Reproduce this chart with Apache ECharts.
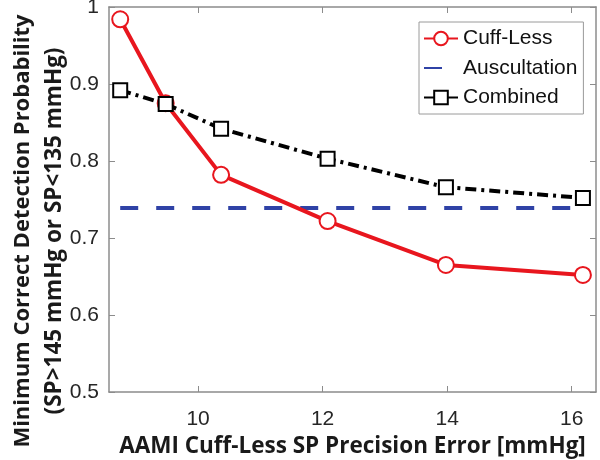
<!DOCTYPE html>
<html>
<head>
<meta charset="utf-8">
<script src="https://cdn.jsdelivr.net/npm/echarts@6/dist/echarts.min.js"></script>
<style>html,body{margin:0;padding:0;background:#fff}#c{width:600px;height:460px}</style>
</head>
<body>
<div id="c"></div>
<script>
var xValues = [8.75, 9.48, 10.37, 12.08, 13.98, 16.18];
var cuffLess = [0.984, 0.875, 0.782, 0.722, 0.665, 0.652];
var auscultation = [0.739, 0.739, 0.739, 0.739, 0.739, 0.739];
var combined = [0.892, 0.874, 0.842, 0.803, 0.766, 0.752];
var xTicks = [10, 12, 14, 16];
var yTicks = [0.5, 0.6, 0.7, 0.8, 0.9, 1];
var seriesNames = ['Cuff-Less', 'Auscultation', 'Combined'];
var xTitle = 'AAMI Cuff-Less SP Precision Error [mmHg]';
var yTitle1 = 'Minimum Correct Detection Probability';
var yTitle2 = '(SP>145 mmHg or SP<135 mmHg)';

function pairs(ys) { return xValues.map(function (x, i) { return [x, ys[i]]; }); }

var axisGray = '#8c8c8c';
var labelFont = { fontFamily: 'Liberation Sans', fontSize: 21, color: '#262626' };
var titleFont = 'Open Sans';

var chart = echarts.init(document.getElementById('c'), null, { renderer: 'canvas' });
chart.setOption({
  animation: false,
  backgroundColor: '#fff',
  grid: { left: 109, top: 7, width: 487, height: 385, containLabel: false, outerBoundsMode: 'none' },
  xAxis: [{
    type: 'value', position: 'bottom', min: 8.57, max: 16.39,
    axisLine: { show: true, lineStyle: { color: axisGray, width: 1.5 } },
    axisTick: { show: true, inside: true, length: 6, customValues: xTicks, lineStyle: { color: axisGray } },
    axisLabel: Object.assign({ customValues: xTicks, margin: 17 }, labelFont),
    splitLine: { show: false },
    name: xTitle, nameLocation: 'middle', nameGap: 40,
    nameTextStyle: { fontFamily: titleFont, fontWeight: 'bold', fontSize: 22.5, color: '#1a1a1a' }
  }, {
    type: 'value', position: 'top', min: 8.57, max: 16.39,
    axisLine: { show: true, lineStyle: { color: axisGray, width: 1.5 } },
    axisTick: { show: true, inside: true, length: 6, customValues: xTicks, lineStyle: { color: axisGray } },
    axisLabel: { show: false }, splitLine: { show: false }
  }],
  yAxis: [{
    type: 'value', position: 'left', min: 0.5, max: 1, interval: 0.1,
    axisLine: { show: true, lineStyle: { color: axisGray, width: 1.5 } },
    axisTick: { show: true, inside: true, length: 6, lineStyle: { color: axisGray } },
    axisLabel: Object.assign({ margin: 10, formatter: function (v) { return String(Math.round(v * 10) / 10); } }, labelFont),
    splitLine: { show: false }
  }, {
    type: 'value', position: 'right', min: 0.5, max: 1, interval: 0.1,
    axisLine: { show: true, lineStyle: { color: axisGray, width: 1.5 } },
    axisTick: { show: true, inside: true, length: 6, lineStyle: { color: axisGray } },
    axisLabel: { show: false }, splitLine: { show: false }
  }],
  legend: {
    left: 419, top: 22, orient: 'vertical',
    data: [seriesNames[0], { name: seriesNames[1], itemStyle: { opacity: 0 } }, seriesNames[2]],
    backgroundColor: '#fff', borderColor: '#9a9a9a', borderWidth: 1,
    padding: [6, 6, 6, 4],
    itemWidth: 34, itemHeight: 17, itemGap: 8.5,
    textStyle: { fontFamily: 'Liberation Sans', fontSize: 21, color: '#111', lineHeight: 20 }
  },
  graphic: [{
    type: 'text', x: 23, y: 231, rotation: Math.PI / 2,
    style: { text: yTitle1, fontFamily: titleFont, fontWeight: 'bold', fontSize: 22, fill: '#1a1a1a', align: 'center', verticalAlign: 'middle' }
  }, {
    type: 'text', x: 55, y: 231, rotation: Math.PI / 2,
    style: { text: yTitle2, fontFamily: titleFont, fontWeight: 'bold', fontSize: 22.5, fill: '#1a1a1a', align: 'center', verticalAlign: 'middle' }
  }],
  series: [{
    name: seriesNames[0], type: 'line', data: pairs(cuffLess),
    color: '#e8161e',
    symbol: 'emptyCircle', symbolSize: 16,
    lineStyle: { color: '#e8161e', width: 4 },
    itemStyle: { color: '#e8161e', borderColor: '#e8161e', borderWidth: 4 },
    z: 3
  }, {
    name: seriesNames[1], type: 'line', data: pairs(auscultation),
    color: '#2f42a6',
    symbol: 'none',
    lineStyle: { color: '#2f42a6', width: 4, type: [18, 18] },
    z: 2
  }, {
    name: seriesNames[2], type: 'line', data: pairs(combined),
    color: '#000',
    symbol: 'emptyRect', symbolSize: 14,
    lineStyle: { color: '#000', width: 4, type: [11, 5, 3, 5] },
    itemStyle: { color: '#000', borderColor: '#000', borderWidth: 4 },
    z: 4
  }]
});
</script>
</body>
</html>
